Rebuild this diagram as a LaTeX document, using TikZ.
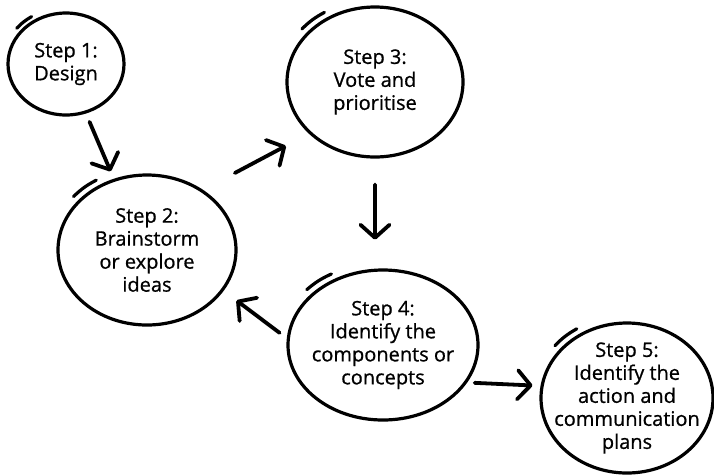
\documentclass[tikz,border=0pt]{standalone}
\usepackage{fontspec}
\setmainfont{Open Sans}
\newfontfamily\handfont{Open Sans}[FakeBold=0.8]
\usetikzlibrary{shapes.geometric,arrows.meta,calc}

\begin{document}
\begin{tikzpicture}[x=1pt,y=-1pt,
        stepnode/.style={draw,ellipse,line width=3.2pt,inner sep=0pt,
            label={[steptext]center:#1}},
        steptext/.style={align=center,inner sep=0pt,font=\handfont\fontsize{20}{23}\selectfont},
        flow/.style={line width=3.8pt,line cap=round,
            -{Straight Barb[length=13pt,width=29pt,round]}},
        tickmark/.style={line width=3.2pt,line cap=round}]
    \useasboundingbox (0,0) rectangle (714,475);

    % the five steps
    \node[stepnode={Step 1:\\Design},minimum width=116pt,minimum height=102pt] (s1) at (66,64) {};
    \node[stepnode={Step 2:\\Brainstorm\\or explore\\ideas},minimum width=178pt,minimum height=150pt] (s2) at (147,250) {};
    \node[stepnode={Step 3:\\Vote and\\prioritise},minimum width=176pt,minimum height=150pt] (s3) at (375,82) {};
    \node[stepnode={Step 4:\\Identify the\\components or\\concepts},minimum width=190pt,minimum height=150pt] (s4) at (383,345) {};
    \node[stepnode={Step 5:\\Identify the\\action and\\communication\\plans},minimum width=172pt,minimum height=150pt] (s5) at (627,398) {};

    % pen start strokes
    \foreach \n in {s1,s2,s3,s4,s5}{
        \draw[tickmark] ($(\n.center)!1.07!(\n.144)$) to[bend left=8] ($(\n.center)!1.07!(\n.126)$);
    }

    % arrows
    \draw[flow,shorten <=9pt,shorten >=8pt] (s1.-68) -- (s2.115);
    \draw[flow,shorten <=36pt,shorten >=26pt] (s2.47) -- (s3.-142);
    \draw[flow,shorten <=26pt,shorten >=29pt] (s3.-90) -- (s4.96);
    \draw[flow,shorten <=9pt,shorten >=16pt] (s4.176) -- (s2.-28);
    \draw[flow,shorten <=7.5pt,shorten >=8pt] (s4.-24) -- (s5.172);
\end{tikzpicture}
\end{document}
